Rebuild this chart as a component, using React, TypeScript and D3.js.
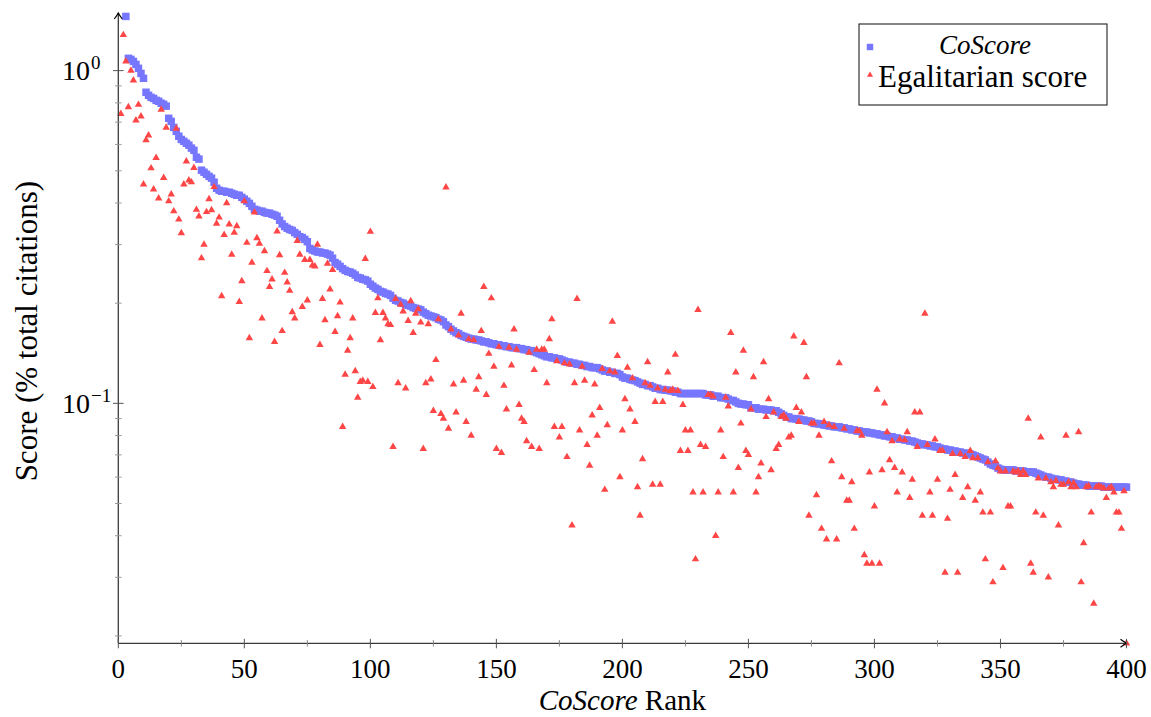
import React, { useEffect, useRef } from 'react'
import * as d3 from 'd3'

const W = 1151
const H = 717

// CoScore of each author, from rank 3 up to rank 400 (ranks 1-2 have no square)
const coFirstRank = 3
const coScore = [
  1.455, 1.089, 1.081, 1.066, 1.044, 1.016, 0.981, 0.948,
  0.861, 0.843, 0.831, 0.825, 0.814, 0.809, 0.798, 0.792, 0.782, 0.719,
  0.704, 0.675, 0.657, 0.635, 0.621, 0.613, 0.605, 0.597, 0.585, 0.576,
  0.549, 0.542, 0.502, 0.495, 0.488, 0.481, 0.475, 0.462, 0.443, 0.437,
  0.434, 0.434, 0.431, 0.431, 0.428, 0.425, 0.422, 0.422, 0.416, 0.411,
  0.405, 0.399, 0.391, 0.383, 0.381, 0.378, 0.378, 0.375, 0.373, 0.373,
  0.370, 0.368, 0.365, 0.355, 0.346, 0.340, 0.336, 0.333, 0.331, 0.326,
  0.322, 0.317, 0.315, 0.311, 0.306, 0.292, 0.289, 0.287, 0.285, 0.285,
  0.283, 0.283, 0.281, 0.279, 0.273, 0.265, 0.262, 0.258, 0.254, 0.251,
  0.249, 0.248, 0.246, 0.243, 0.239, 0.238, 0.236, 0.235, 0.233, 0.228,
  0.225, 0.222, 0.220, 0.217, 0.216, 0.214, 0.213, 0.211, 0.207, 0.204,
  0.203, 0.201, 0.200, 0.198, 0.197, 0.196, 0.194, 0.193, 0.192, 0.191,
  0.188, 0.186, 0.184, 0.183, 0.182, 0.181, 0.179, 0.178, 0.176, 0.172,
  0.170, 0.167, 0.165, 0.163, 0.162, 0.160, 0.159, 0.158, 0.157, 0.156,
  0.156, 0.155, 0.155, 0.154, 0.153, 0.153, 0.152, 0.151, 0.151, 0.150,
  0.150, 0.149, 0.149, 0.148, 0.148, 0.147, 0.147, 0.147, 0.146, 0.146,
  0.145, 0.145, 0.144, 0.144, 0.143, 0.142, 0.141, 0.140, 0.139, 0.138,
  0.138, 0.137, 0.137, 0.136, 0.136, 0.135, 0.134, 0.133, 0.133, 0.132,
  0.132, 0.131, 0.131, 0.130, 0.130, 0.129, 0.129, 0.128, 0.128, 0.128,
  0.127, 0.126, 0.125, 0.125, 0.124, 0.124, 0.123, 0.123, 0.122, 0.120,
  0.119, 0.119, 0.118, 0.1175, 0.117, 0.116, 0.115, 0.114, 0.114, 0.113,
  0.113, 0.112, 0.111, 0.111, 0.110, 0.110, 0.1096, 0.1096, 0.109, 0.109,
  0.108, 0.108, 0.107, 0.107, 0.107, 0.107, 0.107, 0.107, 0.107, 0.107,
  0.107, 0.107, 0.106, 0.106, 0.106, 0.105, 0.105, 0.105, 0.104, 0.104,
  0.104, 0.103, 0.102, 0.102, 0.101, 0.100, 0.0995, 0.0995, 0.099, 0.099,
  0.097, 0.097, 0.097, 0.096, 0.096, 0.096, 0.0955, 0.0955, 0.0955, 0.095,
  0.095, 0.094, 0.093, 0.092, 0.091, 0.091, 0.090, 0.090, 0.0897, 0.0897,
  0.0891, 0.0891, 0.0885, 0.0885, 0.088, 0.087, 0.087, 0.0867, 0.0867, 0.086,
  0.086, 0.0855, 0.0855, 0.085, 0.085, 0.085, 0.0844, 0.0844, 0.0838, 0.0838,
  0.0832, 0.0832, 0.0826, 0.0826, 0.082, 0.082, 0.082, 0.0815, 0.0815, 0.081,
  0.081, 0.0804, 0.0804, 0.0798, 0.0798, 0.0793, 0.0793, 0.0787, 0.0787, 0.078,
  0.078, 0.0776, 0.0776, 0.077, 0.077, 0.0765, 0.076, 0.0755, 0.0755, 0.075,
  0.075, 0.0745, 0.0745, 0.074, 0.074, 0.0734, 0.0729, 0.0729, 0.0724, 0.0724,
  0.0719, 0.0719, 0.0714, 0.0714, 0.0709, 0.0709, 0.0704, 0.0704, 0.070, 0.0695,
  0.069, 0.0685, 0.068, 0.0676, 0.0666, 0.0657, 0.0652, 0.0648, 0.0639, 0.0634,
  0.0631, 0.0631, 0.0631, 0.0631, 0.0631, 0.0626, 0.0626, 0.0626, 0.0626, 0.0622,
  0.0622, 0.0622, 0.0622, 0.0617, 0.0613, 0.0609, 0.0604, 0.060, 0.060, 0.0596,
  0.0592, 0.0592, 0.0589, 0.0589, 0.0584, 0.0584, 0.058, 0.058, 0.0576, 0.0572,
  0.0572, 0.0568, 0.0568, 0.0568, 0.0564, 0.0564, 0.0564, 0.0564, 0.0564, 0.0564,
  0.056, 0.056, 0.056, 0.056, 0.056, 0.056, 0.056, 0.056, 0.056, 0.056,
]

// egalitarian score of the same authors, ranks 1..400
const egalScore = [
  0.742, 1.28, 1.066, 0.777, 1.0, 0.935, 0.709, 0.79, 0.729, 0.455,
  0.618, 0.639, 0.509, 0.44, 0.547, 0.413, 0.764, 0.476, 0.674, 0.405,
  0.425, 0.378, 0.67, 0.357, 0.325, 0.455, 0.534, 0.468, 0.462, 0.51,
  0.382, 0.365, 0.273, 0.30, 0.376, 0.411, 0.381, 0.447, 0.347, 0.362,
  0.21, 0.321, 0.40, 0.345, 0.28, 0.326, 0.341, 0.202, 0.233, 0.405,
  0.304, 0.157, 0.265, 0.375, 0.314, 0.302, 0.18, 0.287, 0.25, 0.224,
  0.236, 0.153, 0.329, 0.279, 0.165, 0.247, 0.231, 0.218, 0.188, 0.18,
  0.308, 0.28, 0.195, 0.27, 0.204, 0.27, 0.26, 0.258, 0.30, 0.15,
  0.206, 0.178, 0.263, 0.22, 0.252, 0.164, 0.183, 0.201, 0.085, 0.122,
  0.144, 0.157, 0.18, 0.125, 0.104, 0.116, 0.117, 0.272, 0.116, 0.328,
  0.112, 0.187, 0.207, 0.155, 0.187, 0.18, 0.173, 0.172, 0.074, 0.206,
  0.115, 0.198, 0.189, 0.111, 0.177, 0.203, 0.163, 0.186, 0.192, 0.175,
  0.073, 0.115, 0.173, 0.118, 0.095, 0.135, 0.179, 0.093, 0.090, 0.446,
  0.084, 0.167, 0.114, 0.094, 0.16, 0.186, 0.117, 0.088, 0.156, 0.080,
  0.155, 0.11, 0.12, 0.165, 0.224, 0.106, 0.141, 0.207, 0.129, 0.073,
  0.148, 0.071, 0.113, 0.096, 0.147, 0.13, 0.167, 0.145, 0.099, 0.090,
  0.088, 0.077, 0.142, 0.074, 0.126, 0.145, 0.073, 0.145, 0.145, 0.115,
  0.156, 0.179, 0.085, 0.134, 0.079, 0.085, 0.132, 0.069, 0.131, 0.043,
  0.115, 0.206, 0.083, 0.129, 0.117, 0.075, 0.065, 0.092, 0.114, 0.08,
  0.097, 0.127, 0.055, 0.086, 0.125, 0.176, 0.124, 0.139, 0.06, 0.083,
  0.103, 0.128, 0.096, 0.119, 0.088, 0.056, 0.046, 0.068, 0.115, 0.133,
  0.113, 0.057, 0.101, 0.111, 0.057, 0.101, 0.110, 0.124, 0.109, 0.110,
  0.14, 0.109, 0.072, 0.099, 0.083, 0.072, 0.083, 0.054, 0.034, 0.191,
  0.075, 0.054, 0.074, 0.106, 0.106, 0.105, 0.040, 0.054, 0.083, 0.069,
  0.104, 0.098, 0.163, 0.054, 0.124, 0.064, 0.087, 0.144, 0.072, 0.070,
  0.096, 0.12, 0.054, 0.06, 0.066, 0.133, 0.091, 0.103, 0.063, 0.094,
  0.073, 0.075, 0.091, 0.092, 0.090, 0.079, 0.080, 0.159, 0.097, 0.088,
  0.094, 0.152, 0.12, 0.046, 0.087, 0.087, 0.053, 0.080, 0.042, 0.088,
  0.039, 0.086, 0.067, 0.085, 0.039, 0.132, 0.06, 0.084, 0.051, 0.051,
  0.058, 0.042, 0.0825, 0.0826, 0.080, 0.035, 0.033, 0.062, 0.033, 0.049,
  0.11, 0.033, 0.063, 0.10, 0.082, 0.0675, 0.077, 0.064, 0.054, 0.078,
  0.062, 0.0776, 0.082, 0.052, 0.059, 0.094, 0.074, 0.094, 0.046, 0.186,
  0.075, 0.054, 0.046, 0.078, 0.059, 0.072, 0.072, 0.031, 0.045, 0.055,
  0.0705, 0.061, 0.031, 0.0705, 0.052, 0.069, 0.056, 0.072, 0.0685, 0.051,
  0.0685, 0.054, 0.047, 0.034, 0.0666, 0.047, 0.029, 0.067, 0.0639, 0.0625,
  0.032, 0.0625, 0.049, 0.049, 0.0625, 0.062, 0.0626, 0.061, 0.0626, 0.061,
  0.09, 0.033, 0.031, 0.047, 0.0595, 0.079, 0.046, 0.0595, 0.030, 0.058,
  0.056, 0.0585, 0.043, 0.057, 0.057, 0.080, 0.058, 0.056, 0.0576, 0.056,
  0.082, 0.029, 0.038, 0.056, 0.0564, 0.047, 0.025, 0.056, 0.0564, 0.056,
  0.0555, 0.052, 0.0555, 0.056, 0.054, 0.047, 0.047, 0.042, 0.0545, 0.019,
]

const xTicks = [0, 50, 100, 150, 200, 250, 300, 350, 400]
const xMinorTicks = [25, 75, 125, 175, 225, 275, 325, 375]
const yTicks = [0.1, 1]
const yTickExp = ['\u22121', '0']
const yMinorTicks = [0.02, 0.03, 0.04, 0.05, 0.06, 0.07, 0.08, 0.09, 0.2, 0.3, 0.4, 0.5, 0.6, 0.7, 0.8, 0.9]

const X_MAX = 400
const Y_MIN = 0.019
const Y_MAX = 1.49

const BLUE = '#7676ff'
const RED = '#ff4646'
const AXIS = '#3a3a3a'
const FONT = "'Liberation Serif', 'Times New Roman', serif"

function drawChart(node: SVGSVGElement) {
  const svg = d3.select(node)
  svg.selectAll('*').remove()

  const left = 118.3, right = 1126.5, top = 13, bottom = 643.3

  const x = d3.scaleLinear().domain([0, X_MAX]).range([left, right])
  const y = d3.scaleLog().domain([Y_MIN, Y_MAX]).range([bottom, top])

  svg.append('rect').attr('width', W).attr('height', H).attr('fill', '#fff')

  // marks
  const squarePath = d3.symbol().type(d3.symbolSquare).size(56)()
  const trianglePath = d3.symbol().type(d3.symbolTriangle).size(24)()

  svg.append('g')
    .selectAll('path')
    .data(coScore)
    .enter()
    .append('path')
    .attr('d', squarePath)
    .attr('transform', (d, i) => `translate(${x(i + coFirstRank)},${y(d)})`)
    .attr('fill', BLUE)

  svg.append('g')
    .selectAll('path')
    .data(egalScore)
    .enter()
    .append('path')
    .attr('d', trianglePath)
    .attr('transform', (d, i) => `translate(${x(i + 1)},${y(d)})`)
    .attr('fill', RED)

  // axis lines with arrow tips
  const ax = svg.append('g').attr('fill', 'none').attr('stroke', AXIS)
  ax.append('line').attr('x1', left).attr('x2', right).attr('y1', bottom).attr('y2', bottom).attr('stroke-width', 1.3)
  ax.append('line').attr('x1', left).attr('x2', left).attr('y1', bottom).attr('y2', top).attr('stroke-width', 1.3)
  ax.append('path')
    .attr('d', `M${right - 6},${bottom - 4} Q${right - 2},${bottom - 1} ${right},${bottom} Q${right - 2},${bottom + 1} ${right - 6},${bottom + 4}`)
    .attr('stroke', '#000').attr('stroke-width', 1.2)
  ax.append('path')
    .attr('d', `M${left - 4},${top + 6} Q${left - 1},${top + 2} ${left},${top} Q${left + 1},${top + 2} ${left + 4},${top + 6}`)
    .attr('stroke', '#000').attr('stroke-width', 1.2)

  // ticks
  ax.selectAll('.xmaj').data(xTicks).enter().append('line')
    .attr('x1', d => x(d)).attr('x2', d => x(d))
    .attr('y1', bottom - 4.5).attr('y2', bottom + 5).attr('stroke', '#555')
  ax.selectAll('.xmin').data(xMinorTicks).enter().append('line')
    .attr('x1', d => x(d)).attr('x2', d => x(d))
    .attr('y1', bottom - 3.2).attr('y2', bottom + 3.2).attr('stroke', '#888')
  ax.selectAll('.ymaj').data(yTicks).enter().append('line')
    .attr('x1', left - 5.3).attr('x2', left + 5.3)
    .attr('y1', d => y(d)).attr('y2', d => y(d)).attr('stroke', '#555')
  ax.selectAll('.ymin').data(yMinorTicks).enter().append('line')
    .attr('x1', left - 3.3).attr('x2', left + 3.3)
    .attr('y1', d => y(d)).attr('y2', d => y(d)).attr('stroke', '#999')

  // tick labels
  svg.selectAll('.xlab').data(xTicks).enter().append('text')
    .attr('x', d => x(d)).attr('y', 678)
    .attr('text-anchor', 'middle')
    .attr('font-family', FONT).attr('font-size', 27)
    .text(d => d)

  const ylab = svg.selectAll('.ylab').data(yTicks).enter().append('text')
    .attr('x', 62).attr('y', d => y(d) + 9.5)
    .attr('font-family', FONT).attr('font-size', 28)
  ylab.append('tspan').text('10')
  ylab.append('tspan').attr('dx', 1).attr('dy', -11).attr('font-size', 19).text((d, i) => yTickExp[i])

  // axis labels
  const xl = svg.append('text')
    .attr('x', (left + right) / 2).attr('y', 710)
    .attr('text-anchor', 'middle')
    .attr('font-family', FONT).attr('font-size', 29)
  xl.append('tspan').attr('font-style', 'italic').text('CoScore')
  xl.append('tspan').text(' Rank')

  svg.append('text')
    .attr('transform', `translate(37,${(top + bottom) / 2 + 3}) rotate(-90)`)
    .attr('text-anchor', 'middle')
    .attr('font-family', FONT).attr('font-size', 31)
    .text('Score (% total citations)')

  // legend
  const lg = svg.append('g')
  lg.append('rect')
    .attr('x', 859).attr('y', 24).attr('width', 248).attr('height', 81)
    .attr('fill', '#fff').attr('stroke', '#222').attr('stroke-width', 1.1)
  lg.append('path')
    .attr('d', d3.symbol().type(d3.symbolSquare).size(42)())
    .attr('transform', 'translate(870,47)').attr('fill', BLUE)
  lg.append('text')
    .attr('x', 985).attr('y', 54).attr('text-anchor', 'middle')
    .attr('font-family', FONT).attr('font-size', 27).attr('font-style', 'italic')
    .text('CoScore')
  lg.append('path')
    .attr('d', d3.symbol().type(d3.symbolTriangle).size(16)())
    .attr('transform', 'translate(870,75)').attr('fill', RED)
  lg.append('text')
    .attr('x', 878).attr('y', 87)
    .attr('font-family', FONT).attr('font-size', 31)
    .text('Egalitarian score')
}

export default function App() {
  const ref = useRef<SVGSVGElement>(null)

  useEffect(() => {
    if (ref.current) drawChart(ref.current)
  }, [])

  return (
    <svg
      ref={ref}
      width={W}
      height={H}
      style={{ position: 'absolute', left: 0, top: 0, display: 'block' }}
    />
  )
}
